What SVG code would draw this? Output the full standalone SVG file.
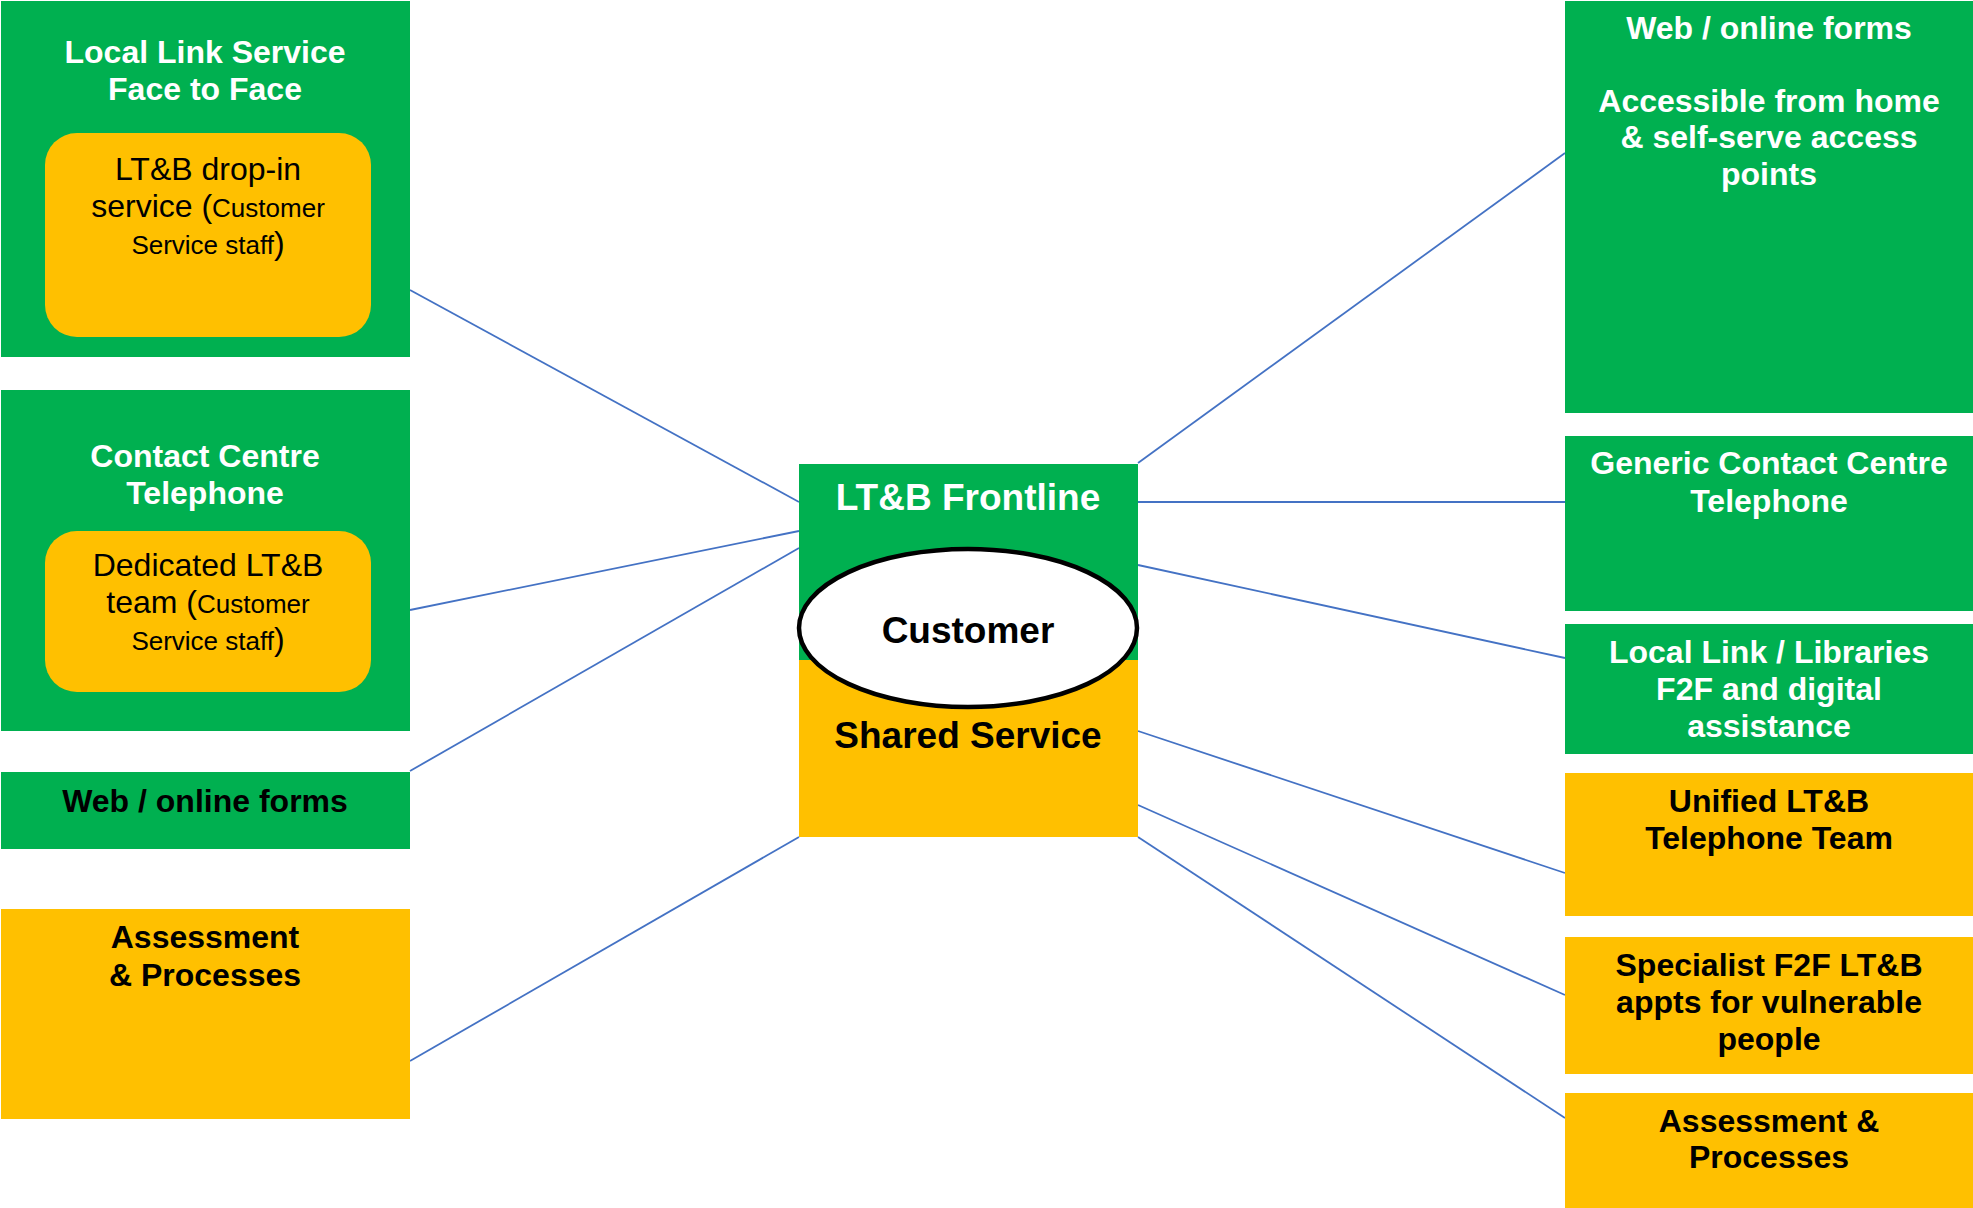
<svg xmlns="http://www.w3.org/2000/svg" width="1973" height="1208" viewBox="0 0 1973 1208">
<style>
.g{fill:#00B050}
.y{fill:#FFC000}
.wb{font-family:"Liberation Sans",Arial,sans-serif;font-weight:bold;font-size:32px;fill:#FFFFFF;text-anchor:middle}
.bb{font-family:"Liberation Sans",Arial,sans-serif;font-weight:bold;font-size:32px;fill:#000000;text-anchor:middle}
.big{font-size:37px}
.rg{font-family:"Liberation Sans",Arial,sans-serif;font-size:32px;fill:#000000;text-anchor:middle}
.sm{font-size:26px}
.conn line{stroke:#4472C4;stroke-width:1.8}
</style>
<rect width="1973" height="1208" fill="#FFFFFF"/>
<g id="connectors" class="conn">
<line x1="410" y1="290" x2="799" y2="502"/>
<line x1="410" y1="610" x2="799" y2="531"/>
<line x1="410" y1="771" x2="799" y2="548"/>
<line x1="410" y1="1061" x2="799" y2="837"/>
<line x1="1138" y1="463" x2="1565" y2="153"/>
<line x1="1138" y1="502" x2="1565" y2="502"/>
<line x1="1138" y1="565" x2="1565" y2="658"/>
<line x1="1138" y1="731" x2="1565" y2="873"/>
<line x1="1138" y1="805" x2="1565" y2="995"/>
<line x1="1138" y1="837" x2="1565" y2="1118"/>
</g>
<g id="local-link-f2f">
<rect class="g" x="1" y="1" width="409" height="356"/>
<text class="wb" x="205" y="63">Local Link Service</text>
<text class="wb" x="205" y="100">Face to Face</text>
<rect class="y" x="45" y="133" width="326" height="204" rx="32"/>
<text class="rg" x="208" y="180">LT&amp;B drop-in</text>
<text class="rg" x="208" y="217">service (<tspan class="sm">Customer</tspan></text>
<text class="rg" x="208" y="254"><tspan class="sm">Service staff</tspan>)</text>
</g>
<g id="contact-centre">
<rect class="g" x="1" y="390" width="409" height="341"/>
<text class="wb" x="205" y="467">Contact Centre</text>
<text class="wb" x="205" y="504">Telephone</text>
<rect class="y" x="45" y="531" width="326" height="161" rx="32"/>
<text class="rg" x="208" y="576">Dedicated LT&amp;B</text>
<text class="rg" x="208" y="613">team (<tspan class="sm">Customer</tspan></text>
<text class="rg" x="208" y="650"><tspan class="sm">Service staff</tspan>)</text>
</g>
<g id="web-left">
<rect class="g" x="1" y="772" width="409" height="77"/>
<text class="bb" x="205" y="812">Web / online forms</text>
</g>
<g id="assessment-left">
<rect class="y" x="1" y="909" width="409" height="210"/>
<text class="bb" x="205" y="948">Assessment</text>
<text class="bb" x="205" y="986">&amp; Processes</text>
</g>
<g id="centre">
<rect class="g" x="799" y="464" width="339" height="197"/>
<rect class="y" x="799" y="660" width="339" height="177"/>
<text class="wb big" x="968" y="510">LT&amp;B Frontline</text>
<text class="bb big" x="968" y="748">Shared Service</text>
<ellipse cx="968" cy="628" rx="169" ry="79" fill="#FFFFFF" stroke="#000000" stroke-width="4.5"/>
<text class="bb big" x="968" y="643">Customer</text>
</g>
<g id="web-right">
<rect class="g" x="1565" y="1" width="408" height="412"/>
<text class="wb" x="1769" y="39">Web / online forms</text>
<text class="wb" x="1769" y="112">Accessible from home</text>
<text class="wb" x="1769" y="148">&amp; self-serve access</text>
<text class="wb" x="1769" y="185">points</text>
</g>
<g id="generic-contact">
<rect class="g" x="1565" y="436" width="408" height="175"/>
<text class="wb" x="1769" y="474">Generic Contact Centre</text>
<text class="wb" x="1769" y="512">Telephone</text>
</g>
<g id="local-link-libraries">
<rect class="g" x="1565" y="624" width="408" height="130"/>
<text class="wb" x="1769" y="663">Local Link / Libraries</text>
<text class="wb" x="1769" y="700">F2F and digital</text>
<text class="wb" x="1769" y="737">assistance</text>
</g>
<g id="unified-telephone">
<rect class="y" x="1565" y="773" width="408" height="143"/>
<text class="bb" x="1769" y="812">Unified LT&amp;B</text>
<text class="bb" x="1769" y="849">Telephone Team</text>
</g>
<g id="specialist-f2f">
<rect class="y" x="1565" y="937" width="408" height="137"/>
<text class="bb" x="1769" y="976">Specialist F2F LT&amp;B</text>
<text class="bb" x="1769" y="1013">appts for vulnerable</text>
<text class="bb" x="1769" y="1050">people</text>
</g>
<g id="assessment-right">
<rect class="y" x="1565" y="1093" width="408" height="115"/>
<text class="bb" x="1769" y="1132">Assessment &amp;</text>
<text class="bb" x="1769" y="1168">Processes</text>
</g>
</svg>
